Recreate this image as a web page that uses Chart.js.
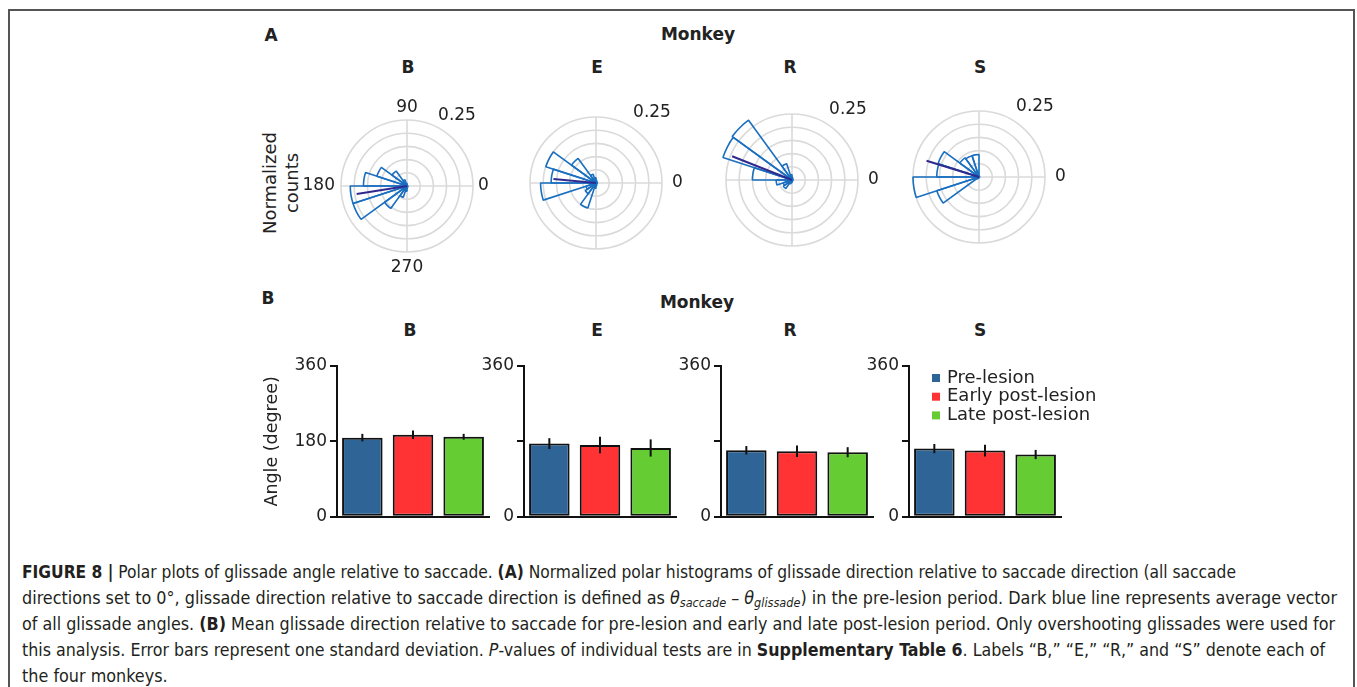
<!DOCTYPE html>
<html>
<head>
<meta charset="utf-8">
<script src="https://cdn.jsdelivr.net/npm/chart.js@4.4.1/dist/chart.umd.min.js"></script>
<style>
  body { margin: 0; background: #fff; width: 1357px; height: 687px; overflow: hidden; position: relative;
         font-family: "DejaVu Sans", sans-serif; color: #222; }
  .frame { position: absolute; left: 8px; top: 9px; width: 1347px; height: 720px; border: 2px solid #555; box-sizing: border-box; }
  .t { position: absolute; transform: translate(-50%, -50%); white-space: nowrap; }
  .hd { font-weight: bold; font-size: 17px; }
  canvas { position: absolute; }
  .cap { position: absolute; left: 22px; height: 26px; line-height: 26px; white-space: nowrap; color: #231f20;
         font-family: "Liberation Sans Narrow", "DejaVu Sans Condensed", "Arial Narrow", sans-serif; font-size: 17px;
         transform-origin: 0 50%; }
  .cap sub { font-size: 12px; vertical-align: -3px; line-height: 0; }
</style>
</head>
<body>
<div class="frame"></div>

<div class="t hd" style="left:271px;top:35px">A</div>
<div class="t hd" style="left:698px;top:34px">Monkey</div>
<div class="t hd" style="left:408px;top:67px">B</div>
<div class="t hd" style="left:597px;top:67px">E</div>
<div class="t hd" style="left:790px;top:67px">R</div>
<div class="t hd" style="left:980px;top:67px">S</div>
<div class="t" style="left:281px;top:183px;transform:translate(-50%,-50%) rotate(-90deg);text-align:center;line-height:22px;font-size:18px">Normalized<br>counts</div>

<div class="t hd" style="left:268px;top:298px">B</div>
<div class="t hd" style="left:697px;top:302px">Monkey</div>
<div class="t hd" style="left:410px;top:330px">B</div>
<div class="t hd" style="left:597px;top:330px">E</div>
<div class="t hd" style="left:790px;top:330px">R</div>
<div class="t hd" style="left:980px;top:330px">S</div>

<div class="cap" style="top:559px"><b>FIGURE 8 |</b> Polar plots of glissade angle relative to saccade. <b>(A)</b> Normalized polar histograms of glissade direction relative to saccade direction (all saccade</div>
<div class="cap" style="top:585px">directions set to 0°, glissade direction relative to saccade direction is defined as <i>θ<sub>saccade</sub></i> – <i>θ<sub>glissade</sub></i>) in the pre-lesion period. Dark blue line represents average vector</div>
<div class="cap" style="top:611px">of all glissade angles. <b>(B)</b> Mean glissade direction relative to saccade for pre-lesion and early and late post-lesion period. Only overshooting glissades were used for</div>
<div class="cap" style="top:637px">this analysis. Error bars represent one standard deviation. <i>P</i>-values of individual tests are in <b>Supplementary Table 6</b>. Labels “B,” “E,” “R,” and “S” denote each of</div>
<div class="cap" style="top:663px">the four monkeys.</div>

<script>
// ── Data ───────────────────────────────────────────────────────────────────
const monkeys = ["B", "E", "R", "S"]

// 18° bins, lower edges (degrees, counter-clockwise from 0)
const binEdges = ["0", "18", "36", "54", "72", "90", "108", "126", "144", "162",
                  "180", "198", "216", "234", "252", "270", "288", "306", "324", "342"]

const histB = [0.003, 0.002, 0.002, 0.003, 0.005, 0.010, 0.025, 0.070, 0.120, 0.165,
               0.215, 0.215, 0.105, 0.045, 0.020, 0.008, 0.004, 0.003, 0.002, 0.002]
const histE = [0.005, 0.005, 0.004, 0.005, 0.010, 0.020, 0.035, 0.115, 0.200, 0.170,
               0.210, 0.040, 0.050, 0.100, 0.020, 0.010, 0.005, 0.004, 0.003, 0.004]
const histR = [0.003, 0.003, 0.003, 0.005, 0.010, 0.020, 0.065, 0.280, 0.275, 0.150,
               0.060, 0.035, 0.040, 0.015, 0.010, 0.005, 0.004, 0.003, 0.003, 0.003]
const histS = [0.002, 0.002, 0.002, 0.002, 0.005, 0.085, 0.085, 0.090, 0.163, 0.160,
               0.250, 0.168, 0.010, 0.005, 0.002, 0.002, 0.002, 0.002, 0.002, 0.002]

// average vector: angle (deg) and length (normalized counts)
const meanAngle  = [189, 174.6, 158.4, 162.8]
const meanLength = [0.193, 0.162, 0.244, 0.208]

const rMax = 0.25
const rStep = 0.05

const periods = ["Pre-lesion", "Early post-lesion", "Late post-lesion"]
const angleMeans = [
  [189, 196, 191],
  [174.7, 171.4, 164.3],
  [158.9, 156.5, 154.2],
  [162.9, 158.2, 148.7]
]
const angleSD = [
  [9, 10, 7],
  [13, 19.5, 20.5],
  [10, 14, 12],
  [11, 14, 11]
]
const yTicksMax = 360

// ── Styling / layout ───────────────────────────────────────────────────────
Chart.defaults.font.family = "'DejaVu Sans', sans-serif"
Chart.defaults.color = "#222"

const periodColors = ["#2f6497", "#ff3334", "#66cc33"]
const polarCenters = [[407, 186], [596, 183], [792, 180], [979, 177]]
const barAxisX = [337, 524, 721, 909]

function addCanvas(left, top, w, h) {
  const c = document.createElement("canvas")
  c.width = w; c.height = h
  c.style.left = left + "px"; c.style.top = top + "px"
  c.style.width = w + "px"; c.style.height = h + "px"
  document.body.appendChild(c)
  return c
}

// ── Polar histograms ───────────────────────────────────────────────────────
const polarDeco = {
  id: "polarDeco",
  afterDatasetsDraw(chart, args, o) {
    const s = chart.scales.r, ctx = chart.ctx
    const a = o.angle * Math.PI / 180
    const d = s.getDistanceFromCenterForValue(o.length)
    ctx.save()
    ctx.strokeStyle = "#2f2a8e"; ctx.lineWidth = 2
    ctx.beginPath()
    ctx.moveTo(s.xCenter, s.yCenter)
    ctx.lineTo(s.xCenter + d * Math.cos(a), s.yCenter - d * Math.sin(a))
    ctx.stroke()
    ctx.restore()
  },
  afterDraw(chart, args, o) {
    const s = chart.scales.r, ctx = chart.ctx, R = s.drawingArea
    const xc = s.xCenter, yc = s.yCenter
    ctx.save()
    ctx.font = "17px 'DejaVu Sans'"
    ctx.fillStyle = "#222"
    ctx.textBaseline = "middle"
    ctx.textAlign = "left"
    ctx.fillText("0", xc + R + o.gap, yc)
    ctx.textAlign = "center"
    ctx.fillText(String(s.max), xc + o.rdx, yc - 70)
    if (o.full) {
      ctx.fillText("90", xc, yc - R - 12)
      ctx.fillText("270", xc, yc + R + 16)
      ctx.textAlign = "right"
      ctx.fillText("180", xc - R - 6, yc)
    }
    ctx.restore()
  }
}

const hists = [histB, histE, histR, histS]
hists.forEach((h, m) => {
  const [cx, cy] = polarCenters[m]
  const cv = addCanvas(cx - 120, cy - 100, 240, 200)
  new Chart(cv, {
    type: "polarArea",
    data: {
      // chart.js runs clockwise from east; reverse so bins run counter-clockwise
      labels: binEdges.slice().reverse(),
      datasets: [{
        data: h.slice().reverse(),
        backgroundColor: "rgba(0,0,0,0)",
        borderColor: "#1a6fc0",
        borderWidth: 1.6,
        clip: false
      }]
    },
    plugins: [polarDeco],
    options: {
      responsive: false,
      animation: false,
      layout: { padding: { left: 54, right: 54, top: 34, bottom: 34 } },
      plugins: {
        legend: { display: false },
        tooltip: { enabled: false },
        polarDeco: {
          angle: meanAngle[m], length: meanLength[m],
          full: m === 0, gap: m === 0 ? 5 : 10, rdx: m === 0 ? 50 : 56
        }
      },
      scales: {
        r: {
          startAngle: 90,
          min: 0, max: rMax,
          ticks: { display: false, stepSize: rStep },
          grid: { circular: true, color: "#dadada", lineWidth: 1.6 },
          angleLines: {
            display: true, color: "#dadada",
            lineWidth: ctx => ctx.index % 5 === 0 ? 1.6 : 0
          },
          pointLabels: { display: false }
        }
      }
    }
  })
})

// ── Bar charts ─────────────────────────────────────────────────────────────
const errorBars = {
  id: "errorBars",
  afterDatasetsDraw(chart, args, o) {
    const { ctx, scales: { y } } = chart
    const meta = chart.getDatasetMeta(0)
    const vals = chart.data.datasets[0].data
    ctx.save()
    ctx.strokeStyle = "#111"; ctx.lineWidth = 2
    meta.data.forEach((bar, i) => {
      ctx.beginPath()
      ctx.moveTo(bar.x, y.getPixelForValue(vals[i] - o.sd[i]))
      ctx.lineTo(bar.x, y.getPixelForValue(vals[i] + o.sd[i]))
      ctx.stroke()
    })
    ctx.restore()
  }
}

const boxLegend = {
  id: "boxLegend",
  afterDraw(chart, args, o) {
    if (!o.show) return
    const { ctx, chartArea } = chart
    const ds = chart.data.datasets[0]
    ctx.save()
    ctx.font = "18px 'DejaVu Sans'"
    ctx.textBaseline = "middle"
    ctx.textAlign = "left"
    chart.data.labels.forEach((lab, i) => {
      const yy = chartArea.top + 12 + i * 18.7
      ctx.fillStyle = ds.backgroundColor[i]
      ctx.fillRect(chartArea.left + 23, yy - 4, 8, 8)
      ctx.fillStyle = "#222"
      ctx.fillText(lab, chartArea.left + 38, yy)
    })
    ctx.restore()
  }
}

monkeys.forEach((mk, m) => {
  const yW = m === 0 ? 79 : 50
  const plotW = 152
  const cv = addCanvas(barAxisX[m] - yW, 350, yW + plotW + 200, 180)
  new Chart(cv, {
    type: "bar",
    data: {
      labels: periods,
      datasets: [{
        data: angleMeans[m],
        backgroundColor: periodColors,
        borderColor: "#111",
        borderWidth: 2,
        borderSkipped: false,
        barPercentage: 0.8,
        categoryPercentage: 1
      }]
    },
    plugins: [errorBars, boxLegend],
    options: {
      responsive: false,
      animation: false,
      layout: { padding: { top: 16, right: 200, bottom: 0, left: 0 } },
      plugins: {
        legend: { display: false },
        tooltip: { enabled: false },
        errorBars: { sd: angleSD[m] },
        boxLegend: { show: m === 3 }
      },
      scales: {
        x: {
          ticks: { display: false },
          grid: { display: false },
          border: { color: "#111", width: 2 },
          afterFit: s => { s.height = 12 }
        },
        y: {
          min: 0, max: yTicksMax,
          ticks: {
            stepSize: 180, padding: 3,
            font: { size: 17 },
            callback: v => (m === 0 || v !== 180) ? v : ""
          },
          grid: { drawOnChartArea: false, drawTicks: true, tickLength: 7, color: "#111", lineWidth: 2 },
          border: { color: "#111", width: 2 },
          title: { display: m === 0, text: "Angle (degree)", font: { size: 17.5 }, padding: { top: 4, bottom: 4 } },
          afterFit: s => { s.width = yW }
        }
      }
    }
  })
})

// ── Caption: fit each printed line to the length it has in the figure ─────
const capLines = document.querySelectorAll(".cap")
const capWidths = [1214, 1315, 1313, 1303]
const base = capWidths[1] / capLines[1].getBoundingClientRect().width
capLines.forEach((l, i) => {
  const k = capWidths[i] ? capWidths[i] / l.getBoundingClientRect().width : base
  l.style.transform = `scaleX(${k})`
})
</script>
</body>
</html>
